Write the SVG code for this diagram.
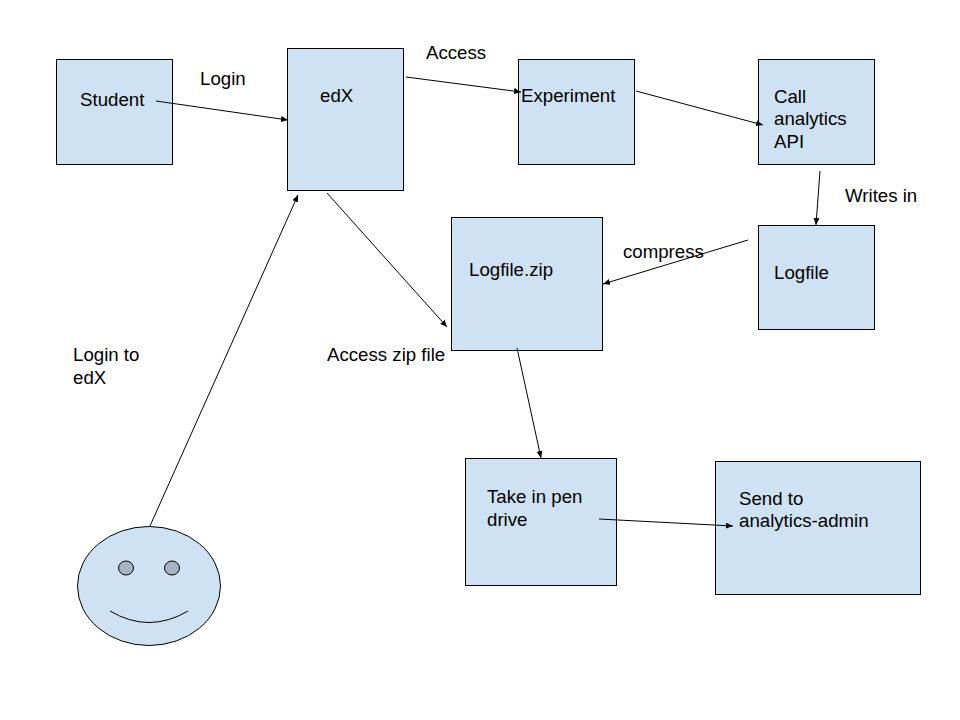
<svg xmlns="http://www.w3.org/2000/svg" width="960" height="720" viewBox="0 0 960 720">
<defs>
<marker id="a" markerUnits="userSpaceOnUse" markerWidth="8" markerHeight="7" refX="7" refY="3" orient="auto"><path d="M0 0L7 3L0 6Z" fill="#000"/></marker>
</defs>
<style>
.n{fill:#cfe2f3;stroke:#000;stroke-width:1}
.e{fill:none;stroke:#000;stroke-width:1;marker-end:url(#a)}
text{font-family:"Liberation Sans",Arial,sans-serif;font-size:18.67px;fill:#000}
</style>
<rect width="960" height="720" fill="#fff"/>
<g id="student"><rect class="n" x="56.500" y="59.500" width="116" height="105"/><text x="80" y="106">Student</text></g>
<g id="edx"><rect class="n" x="287.500" y="48.500" width="116" height="142"/><text x="320" y="102">edX</text></g>
<g id="experiment"><rect class="n" x="518.500" y="59.500" width="116" height="105"/><text x="521" y="102">Experiment</text></g>
<g id="api"><rect class="n" x="758.500" y="59.500" width="116" height="105"/><text x="774" y="103">Call</text><text x="774" y="125">analytics</text><text x="774" y="148">API</text></g>
<g id="logfile"><rect class="n" x="758.500" y="225.500" width="116" height="104"/><text x="774" y="279">Logfile</text></g>
<g id="zip"><rect class="n" x="451.500" y="217.500" width="151" height="133"/><text x="469" y="276">Logfile.zip</text></g>
<g id="pen"><rect class="n" x="465.500" y="458.500" width="151" height="127"/><text x="487" y="503">Take in pen</text><text x="487" y="526">drive</text></g>
<g id="admin"><rect class="n" x="715.500" y="461.500" width="205" height="133"/><text x="739" y="505">Send to</text><text x="739" y="527">analytics-admin</text></g>
<g id="smiley"><ellipse class="n" cx="149" cy="586" rx="71.500" ry="59.500"/><ellipse cx="126" cy="568" rx="7.500" ry="7" fill="#a5b5c3" stroke="#000"/><ellipse cx="172" cy="568" rx="7.500" ry="7" fill="#a5b5c3" stroke="#000"/><path d="M110 611Q149 634 188 611" fill="none" stroke="#000"/></g>
<g id="connectors">
<line class="e" x1="156" y1="101" x2="288" y2="120"/>
<line class="e" x1="406" y1="77" x2="521" y2="92"/>
<line class="e" x1="636" y1="91" x2="763" y2="125"/>
<line class="e" x1="820" y1="171" x2="816" y2="225"/>
<line class="e" x1="748" y1="240" x2="603" y2="284"/>
<line class="e" x1="327" y1="193" x2="447" y2="327"/>
<line class="e" x1="517" y1="348" x2="541" y2="458"/>
<line class="e" x1="599" y1="519" x2="733" y2="526"/>
<line class="e" x1="150" y1="526" x2="298" y2="195"/>
</g>
<g id="labels">
<text x="200" y="85">Login</text>
<text x="426" y="59">Access</text>
<text x="845" y="202">Writes in</text>
<text x="623" y="258">compress</text>
<text x="327" y="361">Access zip file</text>
<text x="73" y="361">Login to</text>
<text x="73" y="384">edX</text>
</g>
</svg>
